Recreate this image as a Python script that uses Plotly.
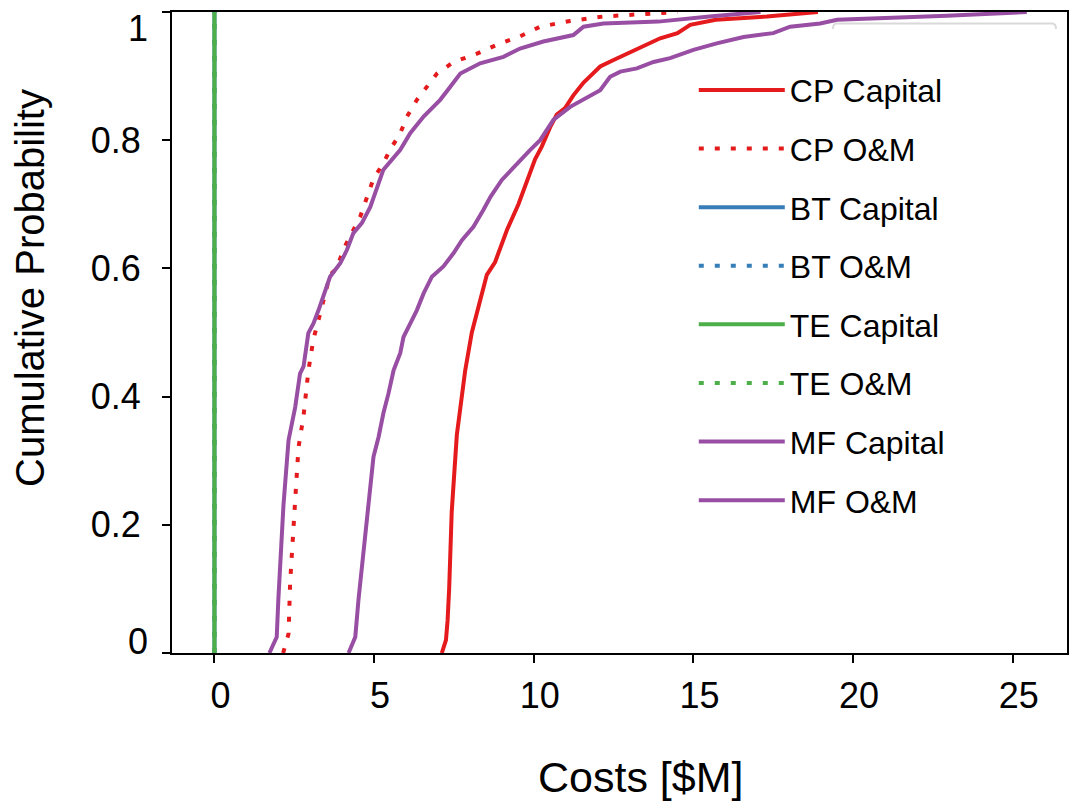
import plotly.graph_objects as go

# ---------------- data ----------------
cp_capital_prob = [0, 0.02, 0.05, 0.10, 0.22, 0.34, 0.44, 0.50, 0.55, 0.59, 0.61, 0.66, 0.70, 0.74,
                   0.77, 0.79, 0.82, 0.84, 0.85, 0.87, 0.89, 0.90, 0.915, 0.925, 0.935, 0.946, 0.959,
                   0.967, 0.98, 0.988, 0.993, 1.0]
cp_capital_cost = [7.12, 7.25, 7.30, 7.35, 7.43, 7.59, 7.85, 8.06, 8.32, 8.53, 8.79, 9.16, 9.52, 9.80,
                   10.04, 10.25, 10.51, 10.72, 10.98, 11.24, 11.56, 11.77, 12.08, 12.50, 12.92, 13.44, 13.96,
                   14.50, 14.90, 15.70, 17.30, 18.90]

cp_om_prob = [0, 0.03, 0.11, 0.21, 0.24, 0.32, 0.37, 0.44, 0.49, 0.52, 0.56, 0.59, 0.60, 0.63, 0.655,
              0.68, 0.71, 0.74, 0.764, 0.785, 0.811, 0.837, 0.863, 0.883, 0.904, 0.922, 0.935, 0.951,
              0.962, 0.977, 0.986, 0.993, 0.998, 1.0]
cp_om_cost = [2.15, 2.32, 2.37, 2.47, 2.53, 2.63, 2.79, 2.94, 3.10, 3.26, 3.47, 3.62, 3.83, 4.04, 4.30,
              4.56, 4.77, 4.98, 5.29, 5.50, 5.82, 6.03, 6.34, 6.65, 6.97, 7.49, 8.22, 8.95,
              9.57, 10.20, 11.14, 12.18, 13.75, 14.50]

bt_capital_prob = [0, 1]
bt_capital_cost = [0, 0]
bt_om_prob = [0, 1]
bt_om_cost = [0, 0]

te_capital_prob = [0, 1]
te_capital_cost = [0, 0]
te_om_prob = [0, 1]
te_om_cost = [0, 0]

mf_capital_prob = [0, 0.025, 0.083, 0.135, 0.187, 0.23, 0.306, 0.337, 0.374, 0.405, 0.441, 0.468, 0.493,
                   0.514, 0.535, 0.561, 0.587, 0.603, 0.624, 0.644, 0.665, 0.691, 0.712, 0.738, 0.764,
                   0.785, 0.80, 0.832, 0.852, 0.863, 0.878, 0.899, 0.907, 0.912, 0.922, 0.928, 0.941,
                   0.951, 0.961, 0.967, 0.977, 0.982, 0.988, 0.994, 0.997, 1.0]
mf_capital_cost = [4.20, 4.41, 4.51, 4.62, 4.72, 4.80, 4.98, 5.14, 5.29, 5.45, 5.61, 5.82, 5.92,
                   6.13, 6.34, 6.55, 6.81, 7.17, 7.49, 7.75, 8.11, 8.42, 8.65, 9.00, 9.47,
                   9.89, 10.20, 10.62, 11.14, 11.56, 12.08, 12.39, 12.71, 13.23, 13.75, 14.27, 15.00,
                   15.73, 16.57, 17.50, 18.03, 18.97, 19.50, 22.94, 24.40, 25.44]

mf_om_prob = [0, 0.025, 0.083, 0.187, 0.23, 0.332, 0.384, 0.436, 0.447, 0.499, 0.514, 0.535, 0.556,
              0.587, 0.608, 0.629, 0.655, 0.671, 0.696, 0.72, 0.754, 0.785, 0.811, 0.837, 0.863,
              0.883, 0.904, 0.92, 0.93, 0.943, 0.954, 0.964, 0.977, 0.982, 0.985, 0.993, 1.0]
mf_om_cost = [1.72, 1.95, 2.00, 2.11, 2.16, 2.32, 2.53, 2.68, 2.79, 2.94, 3.10, 3.26, 3.41,
              3.62, 3.94, 4.15, 4.35, 4.62, 4.88, 5.05, 5.29, 5.82, 6.13, 6.55, 7.07,
              7.38, 7.70, 8.32, 9.05, 9.57, 10.30, 11.24, 11.56, 12.18, 13.90, 15.50, 17.10]

x_ticks = [0, 5, 10, 15, 20, 25]
y_ticks = [0, 0.2, 0.4, 0.6, 0.8, 1]
y_tick_text = ["", "0.2", "0.4", "0.6", "0.8", ""]   # end labels "0"/"1" placed below, nudged inward
y_end_ticks = [0, 1]
y_end_text = ["0", "1"]

x_title = "Costs [$M]"
y_title = "Cumulative Probability"

# ---------------- styling ----------------
RED = "#E41A1C"
BLUE = "#377EB8"
GREEN = "#4DAF4A"
PURPLE = "#984EA3"
DOT = "5px,11px"
FONT = "Liberation Sans, Arial, Helvetica, sans-serif"
TICK_FONT = dict(family=FONT, size=36, color="black")

series = [
    ("CP Capital", cp_capital_cost, cp_capital_prob, RED, "solid"),
    ("CP O&M", cp_om_cost, cp_om_prob, RED, DOT),
    ("BT Capital", bt_capital_cost, bt_capital_prob, BLUE, "solid"),
    ("BT O&M", bt_om_cost, bt_om_prob, BLUE, DOT),
    ("TE Capital", te_capital_cost, te_capital_prob, GREEN, "solid"),
    ("TE O&M", te_om_cost, te_om_prob, GREEN, DOT),
    ("MF Capital", mf_capital_cost, mf_capital_prob, PURPLE, "solid"),
    ("MF O&M", mf_om_cost, mf_om_prob, PURPLE, "solid"),
]

fig = go.Figure()
for i, (name, xs, ys, color, dash) in enumerate(series):
    fig.add_trace(go.Scatter(
        x=xs, y=ys, mode="lines", name=name, legendgroup=f"g{i}",
        line=dict(color=color, width=4, dash=dash),
    ))

axis_common = dict(
    showline=True, linecolor="black", linewidth=2, mirror=True,
    ticks="outside", ticklen=8, tickwidth=2, tickcolor="black",
    showgrid=False, zeroline=False, automargin=False,
    ticklabeloverflow="allow",
    tickfont=TICK_FONT,
)

annotations = []
# end tick labels of the y axis, nudged inward like the reference
for val, txt, shift in zip(y_end_ticks, y_end_text, [12, -16]):
    annotations.append(dict(text=txt, xref="paper", x=0, xshift=-22, xanchor="right",
                            yref="y", y=val, yshift=shift, yanchor="middle",
                            showarrow=False, font=TICK_FONT))
# axis titles
annotations.append(dict(text=x_title, xref="paper", x=0.524, yref="paper", y=-0.1934,
                        xanchor="center", yanchor="middle", showarrow=False,
                        font=dict(family=FONT, size=43, color="black")))
annotations.append(dict(text=y_title, xref="paper", x=-0.1587, yref="paper", y=0.5694,
                        xanchor="center", yanchor="middle", textangle=-90, showarrow=False,
                        font=dict(family=FONT, size=40, color="black")))

fig.update_layout(
    template="none",
    width=1069, height=800,
    margin=dict(l=164, r=10, t=4, b=155),
    paper_bgcolor="white", plot_bgcolor="white",
    font=dict(family=FONT, color="black"),
    xaxis=dict(range=[-1.33, 26.70], tickvals=x_ticks, ticktext=[str(v) for v in x_ticks],
               ticklabelshift=6, ticklabelstandoff=2, **axis_common),
    yaxis=dict(range=[0, 1], tickvals=y_ticks, ticktext=y_tick_text, ticklabelstandoff=14,
               **axis_common),
    legend=dict(x=0.583, y=0.921, xanchor="left", yanchor="top",
                font=dict(family=FONT, size=32, color="black"),
                bgcolor="rgba(0,0,0,0)", itemwidth=86, tracegroupgap=14,
                traceorder="grouped"),
    showlegend=True,
    annotations=annotations,
    shapes=[dict(type="path", xref="paper", yref="paper",
                 path="M 0.7385,0.9735 Q 0.7385,0.982 0.743,0.982 L 0.9832,0.982 Q 0.9877,0.982 0.9877,0.9735",
                 line=dict(color="#d9d9d9", width=2), layer="below")],
)

fig.write_html("out.html")
